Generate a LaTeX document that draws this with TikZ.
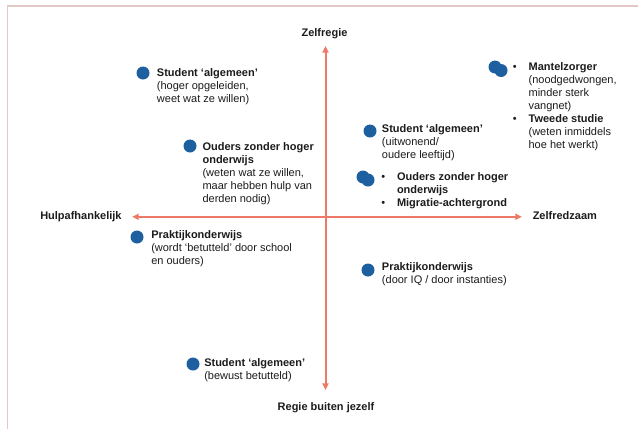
\documentclass[tikz,border=0pt]{standalone}
\usepackage{fontspec}
\setmainfont{Liberation Sans}
\usetikzlibrary{arrows.meta}
\definecolor{axisc}{RGB}{236,122,102}
\definecolor{dotc}{RGB}{30,95,160}
\definecolor{framec}{RGB}{228,200,198}
\definecolor{txtc}{RGB}{28,28,28}
\newcommand\bul{\makebox[11.8pt][l]{•}}
\newcommand\ind{\hspace*{11.8pt}}
\newcommand\fst{\rule{0pt}{8pt}}
\begin{document}
\begin{tikzpicture}[x=0.75pt,y=-0.75pt,
  dot/.style={circle,fill=dotc,minimum size=9.75pt,inner sep=0pt},
  txt/.style={anchor=north west,yshift=8pt,inner sep=0pt,align=left,
    font=\fontsize{8.25}{9.75}\selectfont,text=txtc},
  axlabel/.style={inner sep=0pt,font=\fontsize{8.25}{10}\selectfont\bfseries,text=txtc},
  axisline/.style={draw=axisc,line width=1.5pt,
    {Triangle[length=5pt,width=4.5pt]}-{Triangle[length=5pt,width=4.5pt]}},
  framel/.style={draw=framec,line width=1.2pt}]
\useasboundingbox (0,0) rectangle (638,429);
\fill[white] (0,0) rectangle (638,429);
\draw[framel] (7.3,429) -- (7.3,5.8) -- (638,5.8);

% axes
\coordinate (top) at (325.5,46);
\coordinate (bottom) at (325.5,390);
\coordinate (left) at (132,216.8);
\coordinate (right) at (522,216.8);
\draw[axisline] (left) -- (right);
\draw[axisline] (bottom) -- (top);

\node[axlabel,anchor=base] (lz) at (324.5,36) {Zelfregie};
\node[axlabel,anchor=base] (lr) at (326,410.5) {Regie buiten jezelf};
\node[axlabel,anchor=base west] (lh) at (40,219.5) {Hulpafhankelijk};
\node[axlabel,anchor=base west] (lzr) at (532.5,219.5) {Zelfredzaam};

% 1
\node[dot] (d1) at (143,73) {};
\node[txt] (t1) at (156.7,76) {\fst\textbf{Student ‘algemeen’}\\(hoger opgeleiden,\\weet wat ze willen)};
% 2
\node[dot] (d2) at (190,146) {};
\node[txt] (t2) at (202.3,150) {\fst\textbf{Ouders zonder hoger}\\\textbf{onderwijs}\\(weten wat ze willen,\\maar hebben hulp van\\derden nodig)};
% 3
\node[dot] (d3) at (137,237) {};
\node[txt] (t3) at (151,238.5) {\fst\textbf{Praktijkonderwijs}\\(wordt ‘betutteld’ door school\\en ouders)};
% 4
\node[dot] (d4) at (193,364) {};
\node[txt] (t4) at (204,366.7) {\fst\textbf{Student ‘algemeen’}\\(bewust betutteld)};
% 5
\node[dot] (d5) at (370,131) {};
\node[txt] (t5) at (381.7,132.3) {\fst\textbf{Student ‘algemeen’}\\(uitwonend/\\oudere leeftijd)};
% 6
\node[dot] (d6a) at (363,177) {};
\node[dot] (d6b) at (368,180) {};
\node[txt] (t6) at (381,180) {\fst\bul\textbf{Ouders zonder hoger}\\\ind\textbf{onderwijs}\\\bul\textbf{Migratie-achtergrond}};
% 7
\node[dot] (d7a) at (495,67) {};
\node[dot] (d7b) at (501,70.5) {};
\node[txt] (t7) at (512.6,70) {\fst\bul\textbf{Mantelzorger}\\\ind(noodgedwongen,\\\ind minder sterk\\\ind vangnet)\\\bul\textbf{Tweede studie}\\\ind(weten inmiddels\\\ind hoe het werkt)};
% 8
\node[dot] (d8) at (368,270) {};
\node[txt] (t8) at (381.7,270.7) {\fst\textbf{Praktijkonderwijs}\\(door IQ / door instanties)};
\end{tikzpicture}
\end{document}
